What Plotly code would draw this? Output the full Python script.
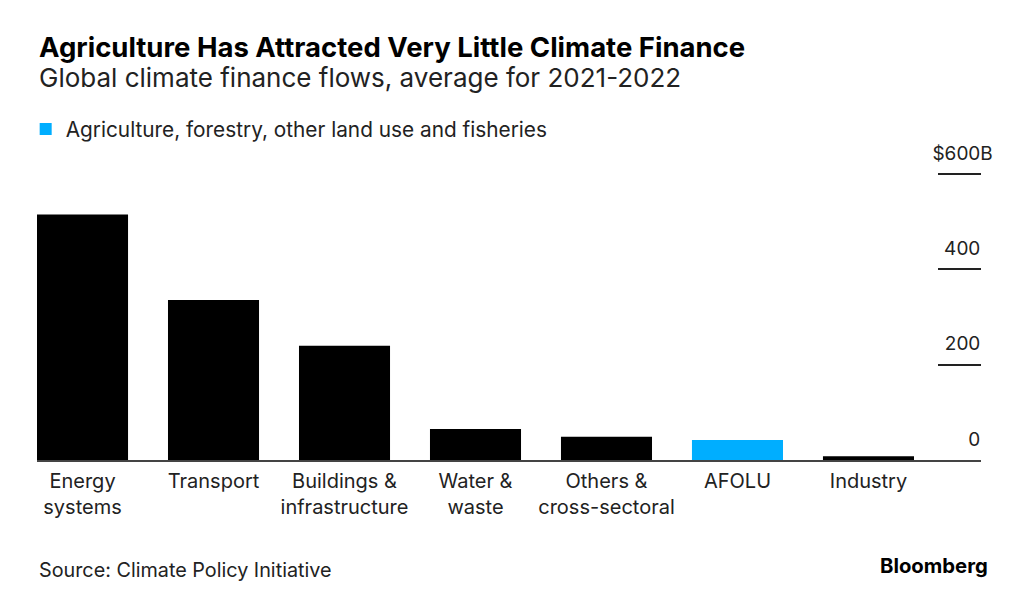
import plotly.graph_objects as go

categories = ["Energy<br>systems", "Transport", "Buildings &<br>infrastructure",
              "Water &<br>waste", "Others &<br>cross-sectoral", "AFOLU", "Industry"]
values = [515, 336, 240, 65, 49, 42, 8]
highlight = [False, False, False, False, False, True, False]
tick_vals = [0, 200, 400, 600]
tick_text = ["0", "200", "400", "$600B"]

FONT = "Inter"
BLACK = "#000000"
BLUE = "#00aeff"
PAD = "<span style='color:rgba(0,0,0,0)'>B</span>"

black_vals = [v if not h else None for v, h in zip(values, highlight)]
blue_vals = [v if h else None for v, h in zip(values, highlight)]
tick_labels = [t if t.endswith("B") else t + PAD for t in tick_text]

fig = go.Figure()
fig.add_trace(go.Bar(x=categories, y=black_vals, marker=dict(color=BLACK, line=dict(width=0)),
                     showlegend=False, hoverinfo="skip"))
fig.add_trace(go.Bar(x=categories, y=blue_vals, marker=dict(color=BLUE, line=dict(width=0)),
                     name="Agriculture, forestry, other land use and fisheries", showlegend=True))

fig.update_layout(
    width=1004, height=602,
    margin=dict(l=29, r=31, t=128, b=150),
    paper_bgcolor="white", plot_bgcolor="white",
    barmode="overlay", bargap=0.305,
    font=dict(family=FONT, color="#222222", size=20),
    showlegend=True,
    legend=dict(x=-0.012, xanchor="left", y=1.0833, yanchor="top", orientation="h",
                font=dict(size=20.8, color="#222222"), bgcolor="rgba(0,0,0,0)",
                itemclick=False, itemdoubleclick=False),
    xaxis=dict(range=[-0.3475, 6.859], showgrid=False, zeroline=False,
               showline=True, linecolor="#444444", linewidth=1.5,
               ticks="", tickfont=dict(size=20, color="#222222"), ticklabelstandoff=2,
               fixedrange=True),
    yaxis=dict(range=[0, 680], side="right", showgrid=False, zeroline=False, showline=False,
               tickvals=tick_vals, ticktext=tick_labels, ticks="inside", ticklen=43,
               tickcolor="#222222", tickwidth=1.5, ticklabelposition="inside",
               ticklabelshift=-21, ticklabelstandoff=-54,
               tickfont=dict(size=19, color="#222222"), fixedrange=True),
    annotations=[
        dict(text="<b>Agriculture Has Attracted Very Little Climate Finance</b>", x=0, y=1.2762,
             xref="paper", yref="paper", xanchor="left", yanchor="middle", showarrow=False,
             font=dict(size=27.5, color="#000000")),
        dict(text="Global climate finance flows, average for 2021-2022", x=0, y=1.1806,
             xref="paper", yref="paper", xanchor="left", yanchor="middle", showarrow=False,
             font=dict(size=26, color="#222222")),
        dict(text="Source: Climate Policy Initiative", x=0, y=-0.3395,
             xref="paper", yref="paper", xanchor="left", yanchor="middle", showarrow=False,
             font=dict(size=19.8, color="#222222")),
        dict(text="<b>Bloomberg</b>", x=1.0095, y=-0.3241,
             xref="paper", yref="paper", xanchor="right", yanchor="middle", showarrow=False,
             font=dict(size=20.3, color="#000000")),
    ],
)

fig.write_html("out.html")
